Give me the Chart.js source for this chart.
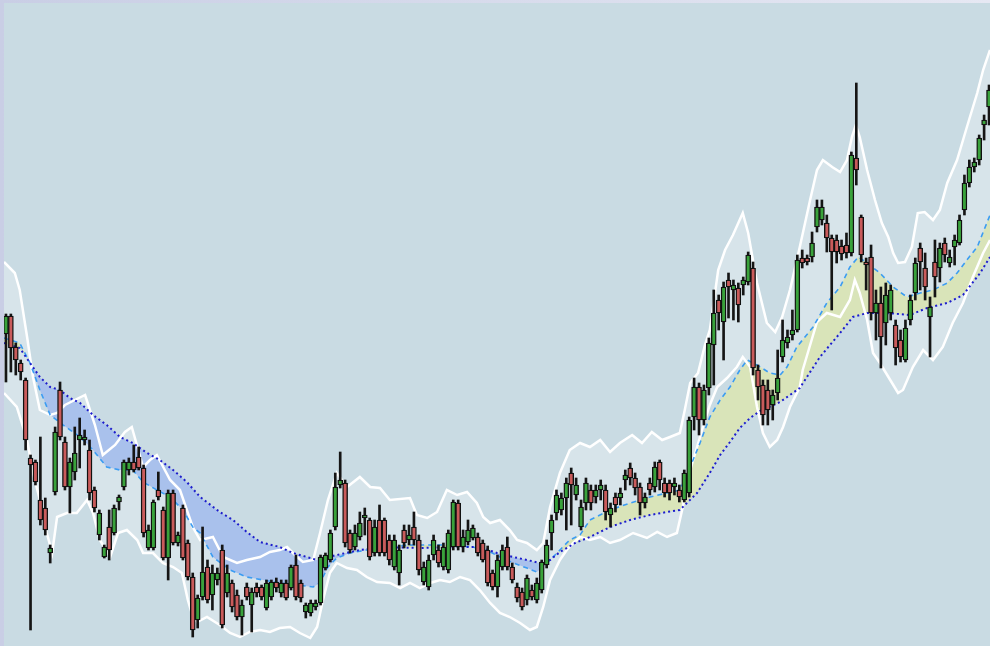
<!DOCTYPE html>
<html>
<head>
<meta charset="utf-8">
<script src="https://cdn.jsdelivr.net/npm/chart.js@4.4.1/dist/chart.umd.min.js"></script>
<style>
  html, body { margin: 0; padding: 0; }
  body {
    width: 990px; height: 646px; overflow: hidden; position: relative;
    background: linear-gradient(to right, #c9cee5, #e6e8f3);
  }
  #wrap { position: absolute; left: 4px; top: 3px; width: 986px; height: 643px; background: #c9dbe3; }
</style>
</head>
<body>
<div id="wrap"><canvas id="chart"></canvas></div>
<script>
// candles, one per day (index = day)
const opens = [312,330,299,283,266,188,184,146,138,93,
  154,256,204,159,174,206,206,196,156,111,
  89,119,113,144,159,176,184,189,178,98,
  98,156,136,88,153,103,138,103,69,
  26,49,79,51,66,96,53,63,51,29,
  59,41,59,59,38,49,64,53,63,58,
  81,63,34,33,39,43,78,86,119,161,
  163,113,99,109,128,126,93,126,126,106,
  79,73,116,106,119,106,64,59,91,96,
  79,76,99,143,99,104,108,109,103,96,
  73,59,79,99,79,59,54,46,56,46,
  56,81,113,133,136,148,173,151,119,143,
  156,149,156,156,131,149,148,166,178,168,
  159,143,163,159,184,163,163,159,156,146,
  153,229,259,226,258,301,346,324,366,356,
  358,361,364,378,276,261,256,241,253,289,
  303,311,316,388,388,389,419,426,423,408,
  406,400,401,393,488,429,384,389,333,343,323,
  333,321,306,286,326,353,398,378,329,384,
  378,403,383,399,403,436,463,479,486,521,
  539];
const closes = [330,298,286,274,206,181,164,126,116,98,
  214,209,159,184,193,211,209,153,138,133,
  99,96,138,149,184,184,176,178,113,116,
  144,149,88,153,103,111,88,69,16,
  48,74,46,73,73,21,73,39,29,41,
  49,54,53,49,63,64,58,63,48,79,
  49,48,41,43,43,89,91,113,159,166,
  103,96,113,123,131,89,119,93,93,86,
  106,96,103,111,106,76,79,86,106,83,
  99,113,144,99,109,116,118,93,86,63,
  59,86,96,79,66,48,39,68,49,63,
  84,101,126,151,148,163,161,161,139,163,
  143,156,161,134,138,141,153,171,168,158,
  143,149,156,179,166,153,153,163,149,173,
  226,259,226,256,303,333,333,359,359,361,
  341,366,391,278,259,231,236,251,268,306,
  309,316,386,383,384,403,439,439,408,394,
  394,392,393,491,476,391,381,333,343,309,351,
  356,298,289,318,346,383,384,359,339,369,
  398,391,389,406,426,463,479,484,508,526,
  556];
const highs = [332,332,303,286,268,191,186,209,148,101,
  219,264,209,188,219,228,216,206,159,136,
  101,136,141,151,186,188,201,199,181,121,
  146,174,139,156,156,114,141,106,73,
  51,119,86,81,78,101,81,66,56,46,
  63,58,63,61,66,66,68,66,66,81,
  91,66,43,46,46,91,93,116,173,194,
  166,116,121,134,138,128,126,141,128,111,
  111,101,121,121,134,111,84,91,111,101,
  103,116,146,146,116,126,121,113,106,100,
  76,91,101,109,83,63,58,71,61,68,
  86,106,131,156,153,168,178,168,146,168,
  161,161,166,161,143,153,158,176,183,173,
  163,153,168,184,186,168,166,168,161,176,
  229,268,263,261,308,356,351,364,373,366,
  363,369,394,384,281,266,266,256,296,326,
  316,336,391,396,391,414,446,446,431,411,
  411,406,413,494,563,431,388,401,356,359,363,
  361,326,316,326,351,388,403,393,349,406,
  403,408,396,411,431,471,486,488,511,531,
  561];
const lows = [264,274,271,266,196,16,161,121,111,83,
  151,206,156,133,166,178,201,146,134,106,
  88,86,111,136,156,171,174,176,109,96,
  96,146,86,66,101,100,86,66,9,
  18,46,43,36,61,18,49,34,26,11,
  46,14,49,46,36,46,54,49,46,56,
  46,44,28,30,36,41,76,84,116,158,
  99,93,96,106,111,86,90,90,90,81,
  76,61,98,101,101,71,61,56,86,79,
  76,73,96,96,94,101,106,90,84,60,
  56,49,76,76,63,44,36,41,46,43,
  53,78,96,126,131,116,121,146,116,136,
  136,143,146,126,119,134,141,156,161,151,
  131,138,151,154,156,149,146,151,144,144,
  149,216,211,221,251,261,316,286,328,326,
  324,351,361,271,246,221,221,226,246,284,
  298,306,314,378,381,384,414,421,394,336,
  383,386,388,390,461,384,356,326,306,278,301,
  326,281,284,284,321,346,356,346,289,349,
  364,384,379,381,401,431,459,474,481,506,
  521];

// upper / lower band, read at the day positions in *X
const upperX = [-0.4,1.8,2.8,4.3,5.5,6.9,9.0,10.4,12.0,14.0,
  16.1,18.1,19.7,22.2,24.2,25.6,27.9,29.3,30.7,33.4,
  35.4,38.0,39.5,42.1,44.2,47.0,49.0,51.7,53.7,55.7,
  57.2,58.8,60.4,62.5,63.9,65.5,67.3,69.4,72.0,74.1,
  76.1,78.1,82.2,83.6,85.7,87.7,89.7,91.8,93.8,95.8,
  97.1,98.5,100.5,102.5,104.0,106.0,108.0,109.3,110.7,112.7,
  114.7,116.8,118.8,120.9,122.9,124.9,127.4,129.4,131.4,133.5,
  135.1,137.1,138.1,139.2,140.8,142.2,143.2,144.9,146.3,147.9,
  149.9,151.0,152.8,154.8,156.5,157.9,159.5,161.5,163.6,165.0,
  166.2,168.1,169.7,171.1,172.1,172.9,173.7,175.2,176.8,178.2,
  179.5,180.5,181.5,182.9,184.3,185.5,186.9,188.6,190.0,191.5,
  193.5,195.5,197.6,198.8,200.2];
const upperY = [384,373,356,309,269,236,231,233,241,246,
  251,221,191,201,214,219,179,186,191,166,
  156,119,106,109,89,83,86,89,94,96,
  99,91,84,86,113,146,173,159,169,159,
  158,146,148,131,128,134,156,151,154,143,
  129,123,126,116,106,103,96,103,139,173,
  196,203,199,206,194,203,211,203,214,206,
  209,213,236,263,273,301,316,376,396,411,
  433,413,363,323,314,329,356,399,446,476,
  486,479,474,486,509,521,509,476,446,423,
  409,393,383,384,399,433,434,426,436,463,
  486,519,553,576,596];

const lowerX = [-0.4,2.2,4.3,5.5,6.9,8.3,9.4,10.4,12.4,14.4,
  16.5,17.7,19.1,21.2,22.8,24.6,26.7,27.9,29.9,31.9,
  34.0,35.8,37.0,38.0,38.9,40.9,43.5,45.6,47.6,49.6,
  51.7,53.7,55.7,57.8,59.8,61.9,63.3,64.5,65.9,67.3,
  69.4,71.4,73.4,75.5,78.1,80.2,82.2,84.2,86.3,88.3,
  90.3,92.4,94.4,96.4,98.5,100.5,102.5,104.6,106.6,108.0,
  109.3,110.7,112.7,114.1,115.4,116.8,118.8,120.9,122.9,124.9,
  127.6,130.4,132.5,134.5,136.5,137.7,138.6,140.6,141.8,143.2,
  144.7,146.7,148.7,149.9,151.4,152.8,154.0,155.4,156.9,158.1,
  159.5,161.5,162.1,165.0,167.0,169.7,171.7,172.7,173.7,175.2,
  176.4,177.8,179.9,181.5,182.5,184.5,186.6,188.6,190.6,192.6,
  194.7,196.7,198.8,200.2];
const lowerY = [253,239,206,173,146,113,93,129,133,133,
  146,133,106,89,113,116,106,93,93,83,
  79,73,46,29,24,29,21,13,9,14,
  16,14,18,19,13,8,19,46,73,83,
  78,76,69,64,63,58,63,58,63,66,
  64,69,66,56,43,33,29,23,16,19,
  39,66,86,96,103,109,106,109,103,106,
  113,108,114,109,113,139,166,199,219,241,
  259,268,279,289,279,239,213,199,206,219,
  239,259,276,324,333,329,346,366,353,326,
  293,283,266,253,256,279,296,286,299,323,
  343,369,393,406];

// slow average (dark blue dotted) and fast average (light blue dashed)
const slowX = [-0.4,2.8,4.9,6.9,9.0,11.0,13.0,15.1,17.7,20.5,
  23.2,25.8,28.7,31.3,34.0,36.8,39.5,43.5,46.2,49.0,
  51.7,55.7,58.4,63.3,67.3,72.0,76.1,84.2,92.4,96.4,
  99.9,103.2,106.0,108.6,110.7,112.7,115.8,118.8,122.9,127.0,
  131.0,134.5,137.1,140.6,143.2,145.3,147.3,149.3,151.4,153.4,
  157.5,161.5,165.6,169.7,172.3,175.2,179.2,183.9,187.4,191.5,
  194.7,198.2,200.2];
const slowY = [303,298,283,269,259,256,248,243,231,221,
  209,203,193,186,176,164,149,134,126,114,
  104,99,93,86,91,96,99,98,99,99,
  93,89,86,83,86,94,103,109,119,126,
  131,134,136,153,173,191,204,218,228,235,
  244,258,289,313,329,333,333,331,338,343,
  351,373,389];
const fastX = [-0.4,2.8,4.9,6.9,9.0,11.6,15.1,17.7,20.5,23.2,
  25.8,27.9,30.7,33.4,36.0,38.0,39.5,42.1,45.6,49.0,
  52.3,55.7,59.2,62.5,63.9,65.5,67.3,70.0,73.4,76.1,
  82.8,89.7,95.0,98.5,100.5,103.2,106.0,108.0,109.3,110.7,
  112.7,114.7,116.8,118.8,122.9,127.0,131.0,134.5,137.1,139.2,
  141.2,143.2,145.3,147.3,149.3,150.8,152.8,155.4,157.5,158.9,
  160.9,164.2,167.0,169.7,171.7,173.4,175.2,177.8,180.5,183.3,
  186.0,188.6,191.5,193.5,195.5,197.6,200.2];
const fastY = [308,303,283,256,231,221,209,196,179,176,
  176,164,156,149,136,119,113,89,76,69,
  66,63,61,59,63,79,88,93,96,99,
  101,101,99,94,89,83,78,74,79,86,
  96,106,111,126,136,143,149,153,156,179,
  203,229,246,259,276,286,281,273,271,279,
  299,319,343,359,379,389,383,373,359,349,
  353,356,363,373,386,399,431];

const GREEN = "#39a23b";
const RED = "#c95b5b";

function pts(xs, ys) {
  return xs.map((x, i) => ({ x: x, y: ys[i] }));
}

const wickData = highs.map((h, i) => ({ x: i, y: [lows[i], h] }));
const bodyData = opens.map((o, i) => ({ x: i, y: [o, closes[i]] }));
const bodyColors = opens.map((o, i) => (closes[i] >= o ? GREEN : RED));

const ctx = document.getElementById("chart").getContext("2d");
new Chart(ctx, {
  type: "bar",
  data: {
    datasets: [
      {
        type: "line",
        data: pts(upperX, upperY),
        borderColor: "#ffffff",
        borderWidth: 2.5,
        pointRadius: 0,
        fill: { target: 1, above: "rgba(255,255,255,0.27)", below: "rgba(255,255,255,0.27)" },
        order: 4,
      },
      {
        type: "line",
        data: pts(lowerX, lowerY),
        borderColor: "#ffffff",
        borderWidth: 2.5,
        pointRadius: 0,
        fill: false,
        order: 4,
      },
      {
        type: "line",
        data: pts(slowX, slowY),
        borderColor: "#1d1dcc",
        borderWidth: 2,
        borderDash: [2, 3],
        pointRadius: 0,
        fill: false,
        order: 2,
      },
      {
        type: "line",
        data: pts(fastX, fastY),
        borderColor: "#3b9cf2",
        borderWidth: 1.6,
        borderDash: [5, 4],
        pointRadius: 0,
        fill: { target: 2, above: "#d9e4b9", below: "#a9c1ec" },
        order: 3,
      },
      {
        data: wickData,
        backgroundColor: "#151515",
        barThickness: 2,
        grouped: false,
        order: 1,
      },
      {
        data: bodyData,
        backgroundColor: bodyColors,
        borderColor: "#111111",
        borderWidth: 1.4,
        borderSkipped: false,
        barThickness: 5,
        grouped: false,
        order: 0,
      },
    ],
  },
  options: {
    responsive: true,
    maintainAspectRatio: false,
    animation: false,
    layout: { padding: 0 },
    plugins: {
      legend: { display: false },
      tooltip: { enabled: false },
      filler: { drawTime: "beforeDatasetsDraw" },
    },
    scales: {
      x: { type: "linear", min: -0.4, max: 200.2, offset: false, display: false },
      y: { min: 0, max: 643, display: false },
    },
  },
});
</script>
</body>
</html>
